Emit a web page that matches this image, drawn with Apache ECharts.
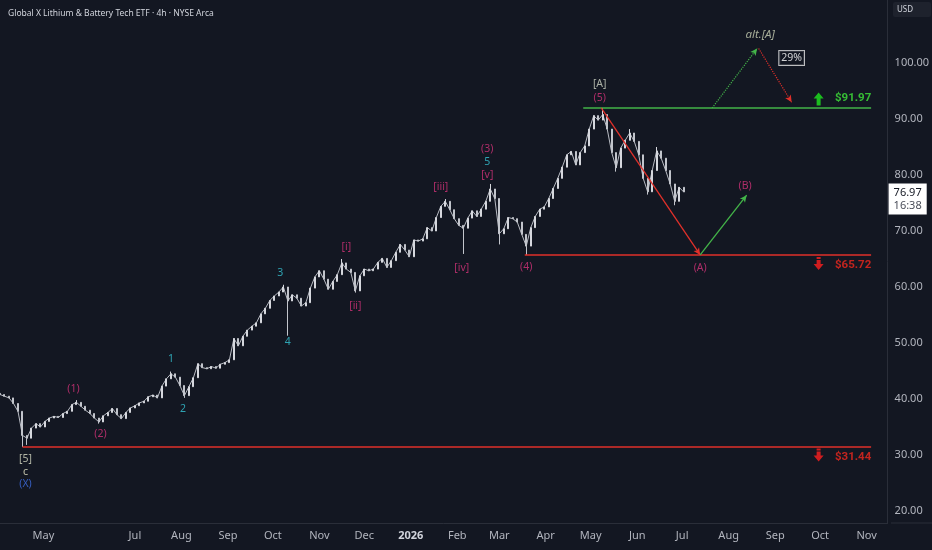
<!DOCTYPE html>
<html>
<head>
<meta charset="utf-8">
<title>LIT 4h</title>
<script src="https://cdn.jsdelivr.net/npm/echarts@6/dist/echarts.min.js"></script>
<style>
html, body { margin: 0; padding: 0; background: #131722; }
#chart { width: 932px; height: 550px; }
</style>
</head>
<body>
<div id="chart"></div>
<script>
// candles, one every 3 days, open = previous close
var candleStart = [2025, 3, 2];
var candleStepDays = 3;
var firstOpen = 41.0;
var closes = [
  40.8, 40.5, 40.2, 39.2, 37.8, 33.5, 33.0, 34.8, 35.6, 35.0,
  36.0, 36.6, 36.9, 36.7, 37.4, 37.8, 39.0, 39.4, 38.7, 38.0,
  37.4, 36.6, 35.9, 37.0, 37.6, 38.3, 37.2, 36.5, 37.6, 38.4,
  38.8, 39.3, 39.6, 40.4, 40.7, 40.2, 42.3, 43.6, 44.5, 43.9,
  42.4, 40.6, 42.2, 43.8, 46.3, 45.6, 45.4, 45.8, 45.5, 46.2,
  46.5, 47.0, 50.8, 49.5, 51.2, 52.3, 53.0, 53.6, 55.2, 56.2,
  57.6, 58.4, 59.1, 60.0, 57.5, 58.6, 58.0, 56.6, 57.2, 59.8,
  61.8, 62.9, 61.4, 59.6, 61.0, 62.2, 64.3, 63.2, 62.6, 59.3,
  62.0, 63.2, 62.9, 63.2, 64.4, 65.1, 63.5, 64.7, 66.2, 67.6,
  66.6, 65.4, 68.4, 68.2, 68.6, 70.6, 70.0, 72.4, 74.4, 75.3,
  73.8, 72.2, 71.0, 70.5, 72.3, 73.6, 72.6, 73.9, 75.3, 77.5,
  75.8, 69.5, 70.4, 72.4, 72.2, 71.6, 69.4, 67.3, 70.6, 72.6,
  73.9, 74.3, 75.8, 77.6, 79.4, 81.4, 83.6, 84.2, 81.8, 84.0,
  85.2, 88.2, 90.6, 89.8, 90.8, 88.2, 84.0, 81.3, 84.8, 86.2,
  87.5, 86.0, 83.6, 79.4, 77.0, 80.8, 84.3, 83.0, 80.8, 78.4,
  75.3, 77.8, 76.97
];
// wick extremes where the reference shows spikes
var wickLows = { 5: 31.44, 6: 31.8, 22: 35.6, 41: 40.2, 64: 51.3, 79: 59.0, 103: 65.9, 111: 67.6, 117: 65.72, 137: 80.6, 144: 76.5, 150: 74.6 };
var wickHighs = { 17: 39.8, 38: 44.9, 63: 60.4, 76: 65.0, 99: 75.7, 109: 78.4, 134: 91.97, 140: 88.2, 146: 85.0 };

var monthTicks = ['2025-05-01', '2025-07-01', '2025-08-01', '2025-09-01', '2025-10-01', '2025-11-01', '2025-12-01',
  '2026-01-01', '2026-02-01', '2026-03-01', '2026-04-01', '2026-05-01', '2026-06-01', '2026-07-01',
  '2026-08-01', '2026-09-01', '2026-10-01', '2026-11-01'];
var monthNames = ['May', 'Jul', 'Aug', 'Sep', 'Oct', 'Nov', 'Dec', '2026', 'Feb', 'Mar', 'Apr', 'May', 'Jun', 'Jul',
  'Aug', 'Sep', 'Oct', 'Nov'];
var priceTicks = [20, 30, 40, 50, 60, 70, 80, 90, 100];
var lastPrice = 76.97;
var lastTimer = '16:38';

// support / resistance levels
var levelPrices = [91.97, 65.72, 31.44];
var levelStarts = ['2026-04-26', '2026-03-18', '2025-04-17'];
var levelEnd = '2026-11-04';
var levelColors = ['#43b549', '#e0302a', '#e0302a'];
var levelTexts = ['$91.97', '$65.72', '$31.44'];
var levelTextColors = ['#3ee63a', '#f0281e', '#f0281e'];
var levelTextPrices = [93.75, 63.93, 29.64];
var levelArrowPrices = [93.57, 64.2, 30.0];
var levelArrowUp = [true, false, false];
var levelTextDate = '2026-10-23';
var levelArrowDate = '2026-09-30';

// wave labels
var waveTexts = ['[5]', 'c', '(X)', '(1)', '(2)', '1', '2', '3', '4', '[i]', '[ii]', '[iii]', '[iv]',
  '(3)', '5', '[v]', '(4)', '[A]', '(5)', '(A)', '(B)'];
var waveDates = ['2025-04-19', '2025-04-19', '2025-04-19', '2025-05-21', '2025-06-08', '2025-07-25', '2025-08-02',
  '2025-10-06', '2025-10-11', '2025-11-19', '2025-11-25', '2026-01-21', '2026-02-04',
  '2026-02-21', '2026-02-21', '2026-02-21', '2026-03-19', '2026-05-07', '2026-05-07', '2026-07-13', '2026-08-12'];
var wavePrices = [29.29, 26.96, 24.82, 41.79, 33.75, 47.14, 38.21, 62.5, 50.18, 67.14, 56.61, 77.86, 63.39,
  84.64, 82.32, 80.0, 63.57, 96.25, 93.75, 63.39, 78.04];
var pink = '#d6337a', teal = '#36c5d6';
var waveColors = ['#d9dcc6', '#e8e8c8', '#3f6fe6', pink, pink, teal, teal, teal, teal, pink, pink, pink, pink,
  pink, teal, pink, pink, '#cfd6c6', pink, pink, pink];

// projected paths
var pathFrom = [['2026-05-08', 91.97], ['2026-07-13', 65.72], ['2026-07-21', 91.97], ['2026-08-21', 102.6]];
var pathTo = [['2026-07-13', 65.72], ['2026-08-13', 76.4], ['2026-08-20', 102.6], ['2026-09-12', 93.0]];
var pathColors = ['#e0302a', '#43b549', '#43b549', '#e0302a'];
var pathDotted = [false, false, true, true];

var altText = 'alt.[A]', altDate = '2026-08-22', altPrice = 105.0;
var probText = '29%', probDate = '2026-09-12', probPrice = 100.9;

function ts(s) { return new Date(s + 'T00:00:00').getTime(); }

var candles = closes.map(function (c, i) {
  var d = new Date(candleStart[0], candleStart[1], candleStart[2] + i * candleStepDays).getTime();
  var o = i ? closes[i - 1] : firstOpen;
  var lo = wickLows[i] != null ? wickLows[i] : Math.min(o, c);
  var hi = wickHighs[i] != null ? wickHighs[i] : Math.max(o, c);
  return [d, o, c, lo, hi];
});
var closeLine = candles.map(function (k) { return [k[0], k[2]]; });

var tickName = {};
monthTicks.forEach(function (m, i) { tickName[ts(m)] = monthNames[i]; });

var marks = [];
levelPrices.forEach(function (p, i) {
  marks.push([
    { coord: [ts(levelStarts[i]), p], symbol: 'none', lineStyle: { color: levelColors[i], width: 1.5, type: 'solid' } },
    { coord: [ts(levelEnd), p], symbol: 'none' }
  ]);
});
pathFrom.forEach(function (f, i) {
  marks.push([
    { coord: [ts(f[0]), f[1]], symbol: 'none',
      lineStyle: { color: pathColors[i], width: pathDotted[i] ? 1.2 : 1.3, type: pathDotted[i] ? 'dotted' : 'solid' } },
    { coord: [ts(pathTo[i][0]), pathTo[i][1]], symbol: 'arrow', symbolSize: [5, 7] }
  ]);
});
// last price tag on the price scale
marks.push({
  yAxis: lastPrice, symbol: 'none', lineStyle: { color: 'rgba(0,0,0,0)', width: 0.1 },
  label: {
    show: true, position: 'end', distance: 1, offset: [0, 7],
    formatter: '{a|' + lastPrice.toFixed(2) + '}\n{b|' + lastTimer + '}',
    backgroundColor: '#ffffff', padding: [3, 5, 2, 5],
    rich: {
      a: { color: '#131722', fontSize: 11, lineHeight: 13, fontFamily: 'Noto Sans' },
      b: { color: '#4a4e59', fontSize: 11, lineHeight: 13, fontFamily: 'Noto Sans' }
    }
  }
});

var textItems = waveTexts.map(function (t, i) {
  return { value: [ts(waveDates[i]), wavePrices[i]], label: { formatter: t, color: waveColors[i] } };
});
textItems.push({ value: [ts(altDate), altPrice], label: { formatter: altText, color: '#c8d0b4', fontStyle: 'italic', fontSize: 11.5 } });
textItems.push({
  value: [ts(probDate), probPrice],
  label: { formatter: probText, color: '#ffffff', borderColor: '#e8e8e8', borderWidth: 1, padding: [2, 2, 1, 2], backgroundColor: '#131722' }
});
levelTexts.forEach(function (t, i) {
  textItems.push({
    value: [ts(levelTextDate), levelTextPrices[i]],
    label: { formatter: t, color: levelTextColors[i], fontWeight: 'bold', fontSize: 11.5, fontFamily: 'Roboto' }
  });
});

var arrowUp = 'path://M5,0 L10,6 L7,6 L7,13 L3,13 L3,6 L0,6 Z';
var arrowDown = 'path://M3,0 L7,0 L7,2 L3,2 Z M3,3 L7,3 L7,7 L10,7 L5,13 L0,7 L3,7 Z';
var arrowItems = levelArrowPrices.map(function (p, i) {
  return {
    value: [ts(levelArrowDate), p],
    symbol: levelArrowUp[i] ? arrowUp : arrowDown,
    itemStyle: { color: levelArrowUp[i] ? '#1ee61e' : '#ff1f1f' }
  };
});

var chart = echarts.init(document.getElementById('chart'));
chart.setOption({
  backgroundColor: '#131722',
  animation: false,
  title: {
    text: 'Global X Lithium & Battery Tech ETF · 4h · NYSE Arca',
    left: 3, top: 4,
    textStyle: { color: '#d1d4dc', fontSize: 8.5, fontWeight: 'normal', fontFamily: 'Noto Sans' }
  },
  grid: { left: 0, right: 41, top: 0, bottom: 27 },
  xAxis: {
    // timestamps on a value axis so the month labels can sit on month starts
    type: 'value',
    min: ts('2025-04-02'), max: ts('2026-11-15'),
    axisLine: { lineStyle: { color: '#2a2e39' } },
    axisTick: { show: false },
    splitLine: { show: false },
    axisLabel: {
      customValues: monthTicks.map(ts),
      color: '#b2b5be', fontSize: 11, margin: 7, fontFamily: 'Noto Sans',
      formatter: function (v) {
        var n = tickName[v] || '';
        return n === '2026' ? '{b|2026}' : n;
      },
      rich: { b: { color: '#d1d4dc', fontWeight: 'bold', fontSize: 11, fontFamily: 'Noto Sans' } }
    }
  },
  yAxis: {
    type: 'value', position: 'right',
    min: 17.857, max: 111.25,
    axisLine: { show: true, lineStyle: { color: '#2a2e39' } },
    axisTick: { show: false },
    splitLine: { show: false },
    axisLabel: {
      customValues: priceTicks,
      color: '#b2b5be', fontSize: 11, margin: 7, fontFamily: 'Noto Sans',
      formatter: function (v) { return v.toFixed(2); }
    }
  },
  graphic: [
    { type: 'line', shape: { x1: 891, y1: 523, x2: 932, y2: 523 }, style: { stroke: '#2a2e39', lineWidth: 1 } },
    { type: 'rect', shape: { x: 893, y: 2, width: 38, height: 15, r: 2 }, style: { fill: '#1e222d' } },
    { type: 'text', x: 897, y: 10, style: { text: 'USD', fill: '#d1d4dc', fontSize: 8, fontFamily: 'Noto Sans', verticalAlign: 'middle' } }
  ],
  series: [
    {
      type: 'line',
      data: closeLine,
      symbol: 'none',
      silent: true,
      lineStyle: { color: '#b9bcc4', width: 1 },
      z: 2
    },
    {
      type: 'candlestick',
      data: candles,
      encode: { x: 0, y: [1, 2, 3, 4] },
      barWidth: 1.5,
      clip: true,
      itemStyle: { color: '#d6d8de', color0: '#c2c5cc', borderColor: '#d6d8de', borderColor0: '#c2c5cc', borderWidth: 1 },
      markLine: { silent: true, animation: false, label: { show: false }, data: marks },
      z: 3
    },
    {
      type: 'scatter',
      silent: true,
      symbol: 'circle', symbolSize: 1,
      itemStyle: { color: 'rgba(0,0,0,0)' },
      label: { show: true, position: 'inside', fontSize: 10.5, fontFamily: 'Noto Sans' },
      data: textItems,
      z: 5
    },
    {
      type: 'scatter',
      silent: true,
      symbolSize: [10, 13],
      data: arrowItems,
      z: 5
    }
  ]
});
</script>
</body>
</html>
